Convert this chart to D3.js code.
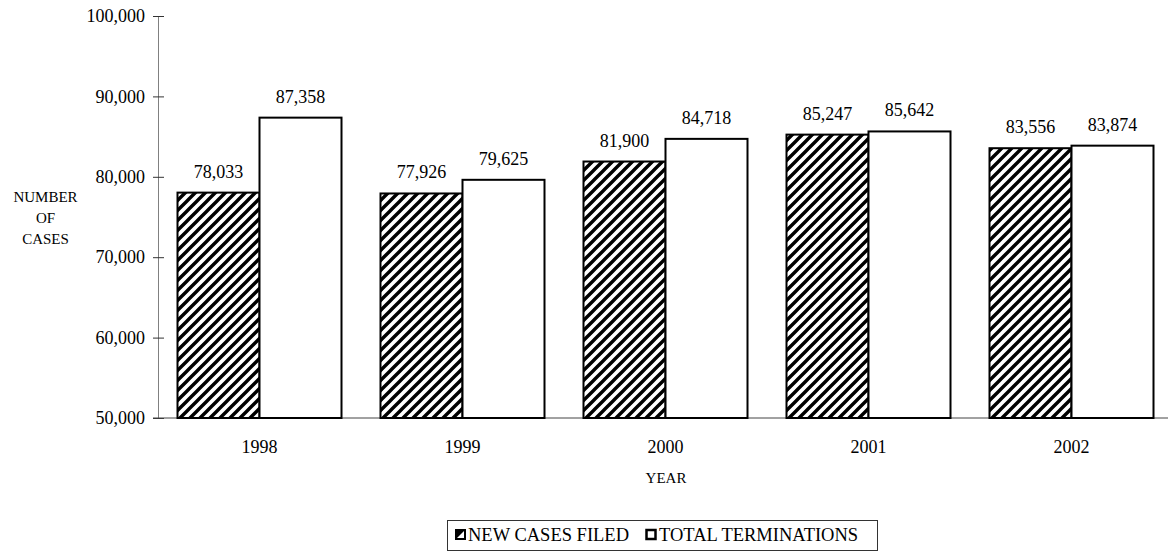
<!DOCTYPE html>
<html>
<head>
<meta charset="utf-8">
<script src="https://cdn.jsdelivr.net/npm/d3@7"></script>
<style>
  body { margin: 0; background: #fff; }
  text { font-family: "Liberation Serif", "Times New Roman", serif; fill: #000; }
</style>
</head>
<body>
<div id="chart"></div>
<script>
// Bar Chart - New Cases Filed vs Total Terminations

const years = ["1998", "1999", "2000", "2001", "2002"];
const newCases = [78033, 77926, 81900, 85247, 83556];
const terminations = [87358, 79625, 84718, 85642, 83874];
const yTicks = [50000, 60000, 70000, 80000, 90000, 100000];
const seriesNames = ["NEW CASES FILED", "TOTAL TERMINATIONS"];

const width = 1168;
const height = 552;

const svg = d3.select("#chart")
    .append("svg")
    .attr("width", width)
    .attr("height", height);

// hatch pattern for new cases
const defs = svg.append("defs");
defs.append("pattern")
    .attr("id", "hatch")
    .attr("patternUnits", "userSpaceOnUse")
    .attr("width", 10)
    .attr("height", 10)
    .call(p => {
        p.append("rect").attr("width", 10).attr("height", 10).attr("fill", "#fff");
        p.append("path")
            .attr("d", "M-2.5,2.5 L2.5,-2.5 M0,10 L10,0 M7.5,12.5 L12.5,7.5")
            .attr("stroke", "#000")
            .attr("stroke-width", 3.4);
    });

const xScale = d3.scaleBand()
    .domain(years)
    .range([158, 1173]);

const xInner = d3.scaleBand()
    .domain(seriesNames)
    .range([19.5, 183.5]);

const yScale = d3.scaleLinear()
    .domain([50000, 100000])
    .range([418, 16]);

const fmt = d3.format(",");

// y axis
const yAxis = svg.append("g")
    .attr("transform", "translate(158,0)")
    .call(d3.axisLeft(yScale).tickValues(yTicks).tickFormat(fmt).tickSizeOuter(0));
yAxis.select(".domain").attr("stroke", "#808080");
yAxis.selectAll(".tick line").attr("x1", -5).attr("x2", 6).attr("stroke", "#333");
yAxis.selectAll(".tick text")
    .attr("x", -13)
    .style("font-family", "Liberation Serif")
    .style("font-size", "18px")
    .attr("fill", "#000");

// x axis
const xAxis = svg.append("g")
    .attr("transform", "translate(0,418)")
    .call(d3.axisBottom(xScale).tickSize(0).tickPadding(22));
xAxis.select(".domain").remove();
xAxis.selectAll(".tick text")
    .style("font-family", "Liberation Serif")
    .style("font-size", "18px")
    .attr("fill", "#000");

svg.append("line")
    .attr("x1", 153).attr("x2", width)
    .attr("y1", yScale(50000)).attr("y2", yScale(50000))
    .attr("stroke", "#444");

const rows = years.map((y, i) => ({year: y, values: [newCases[i], terminations[i]]}));

const groups = svg.selectAll(".grp")
    .data(rows)
    .join("g")
    .attr("class", "grp")
    .attr("transform", d => `translate(${xScale(d.year)},0)`);

groups.selectAll("rect")
    .data(d => d.values.map((v, j) => ({key: seriesNames[j], value: v, j})))
    .join("rect")
    .attr("x", d => xInner(d.key))
    .attr("y", d => yScale(d.value))
    .attr("width", xInner.bandwidth())
    .attr("height", d => yScale(50000) - yScale(d.value))
    .attr("fill", d => d.j === 0 ? "url(#hatch)" : "#fff")
    .attr("stroke", "#000")
    .attr("stroke-width", 2);

groups.selectAll(".lbl")
    .data(d => d.values.map((v, j) => ({key: seriesNames[j], value: v})))
    .join("text")
    .attr("class", "lbl")
    .attr("x", d => xInner(d.key) + xInner.bandwidth() / 2)
    .attr("y", d => yScale(d.value) - 15)
    .attr("text-anchor", "middle")
    .style("font-size", "18px")
    .text(d => fmt(d.value));

// axis titles
const yTitle = svg.append("text")
    .attr("text-anchor", "middle")
    .style("font-size", "15px");
["NUMBER", "OF", "CASES"].forEach((t, i) => {
    yTitle.append("tspan").attr("x", 45.5).attr("y", 202 + i * 21).text(t);
});

svg.append("text")
    .attr("x", 666)
    .attr("y", 483)
    .attr("text-anchor", "middle")
    .style("font-size", "15px")
    .text("YEAR");

// legend
const legend = svg.append("g");
legend.append("rect")
    .attr("x", 447.5).attr("y", 520.5)
    .attr("width", 430).attr("height", 30)
    .attr("fill", "#fff")
    .attr("stroke", "#333");

// new cases icon: black square with white diagonal half
legend.append("rect")
    .attr("x", 455).attr("y", 529).attr("width", 11).attr("height", 11)
    .attr("fill", "#000");
legend.append("path")
    .attr("d", "M457,538 L464,531 L464,538 Z")
    .attr("fill", "#fff");
legend.append("text")
    .attr("x", 468).attr("y", 541)
    .style("font-size", "18.5px")
    .text(seriesNames[0]);

legend.append("rect")
    .attr("x", 646.5).attr("y", 530).attr("width", 9).attr("height", 9)
    .attr("fill", "#fff")
    .attr("stroke", "#000")
    .attr("stroke-width", 2.5);
legend.append("text")
    .attr("x", 659).attr("y", 541)
    .style("font-size", "18.5px")
    .text(seriesNames[1]);
</script>
</body>
</html>
